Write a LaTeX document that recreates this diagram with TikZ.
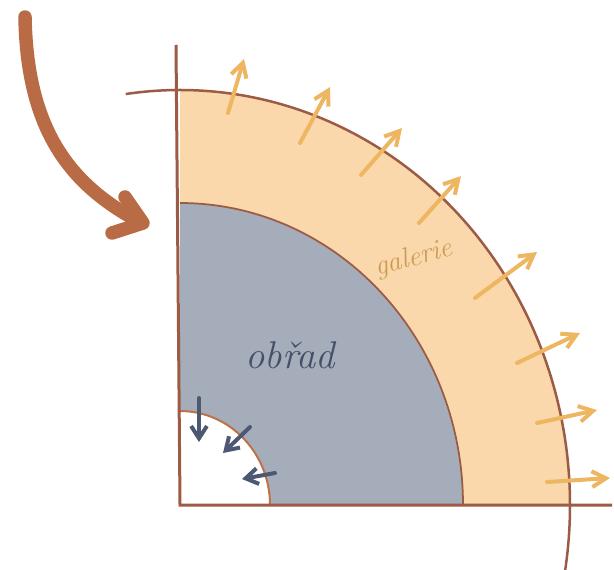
\documentclass[tikz,border=0pt]{standalone}
\usetikzlibrary{arrows.meta}
\definecolor{rust}{HTML}{B96B45}
\definecolor{peach}{HTML}{FAD8AC}
\definecolor{slate}{HTML}{A5ACBA}
\definecolor{edgebrown}{HTML}{9C5B45}
\definecolor{amber}{HTML}{EEB661}
\definecolor{navy}{HTML}{4D5873}
\tikzset{
  outline/.style={draw=edgebrown, line width=0.05cm},
  outflow/.style={amber, line width=0.08cm, line cap=round, -{Straight Barb[length=8pt,width=9pt]}},
  inflow/.style={navy, line width=0.08cm, line cap=round, -{Straight Barb[length=7pt,width=9pt]}}
}
\begin{document}
\begin{tikzpicture}[x=0.02cm,y=0.02cm]
  \useasboundingbox (0,0) rectangle (614,569);
  \coordinate (O) at (180,64);
  % layers
  \fill[peach] (O) -- (570,64) arc[start angle=0,end angle=90,x radius=390,y radius=415] -- cycle;
  \fill[slate] (O) -- (463,64) arc[start angle=0,end angle=90,x radius=283,y radius=302] -- cycle;
  \fill[white] (O) -- (270,64) arc[start angle=0,end angle=90,x radius=90,y radius=94] -- cycle;
  \draw[outline] (O) ++(98:390 and 415) arc[start angle=98,end angle=-9,x radius=390,y radius=415];
  \draw[outline, line width=0.035cm] (463,64) arc[start angle=0,end angle=90,x radius=283,y radius=302];
  \draw[draw=rust!90!amber, line width=0.04cm] (270,64) arc[start angle=0,end angle=90,x radius=90,y radius=94];
  % axes
  \draw[outline, line width=0.06cm] (176,524) -- (O) -- (612,64);
  % arrows out of the shell
  \foreach \xa/\ya/\xb/\yb in {228/456/244/510, 300/426/330/482, 361/394/402/441, 419/346/461/393,
                     475/271/537/317, 517/206/580/236, 537/146/597/159, 547/87/610/91}
    \draw[outflow] (\xa,\ya) -- (\xb,\yb);
  % arrows into the hole
  \foreach \xa/\ya/\xb/\yb in {199/171/199/127, 250/142/223/116, 275/96/242/90}
    \draw[inflow] (\xa,\ya) -- (\xb,\yb);
  % labels
  \node[navy!90!black, font=\itshape\fontsize{22}{26}\selectfont] (obrad) at (290,214) {obřad};
  \node[amber!85!black, rotate=15, inner sep=0pt, font=\itshape\fontsize{16}{19}\selectfont] (galerie) at (414,310) {galerie};
  % big arrow
  \draw[rust, line width=0.27cm, line cap=round, line join=round]
    (25,552) .. controls (27,439) and (70,384) .. (140,347);
  \draw[rust, line width=0.27cm, line cap=round, line join=round]
    (125,372) -- (143,346) -- (112,336);
\end{tikzpicture}
\end{document}
